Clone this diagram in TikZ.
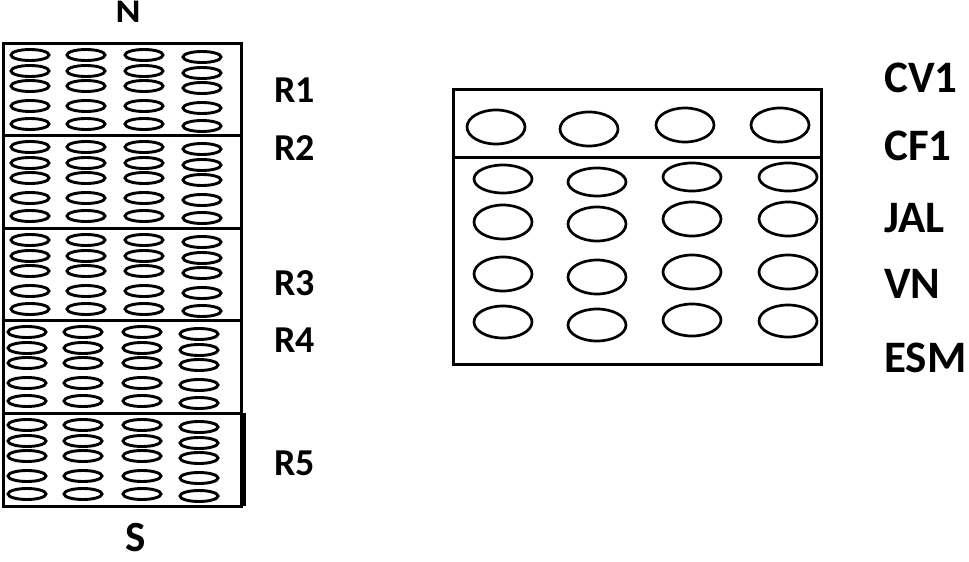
\documentclass[tikz,border=0pt]{standalone}
\usepackage{fontspec}
\setmainfont{Carlito}
\begin{document}
\begin{tikzpicture}[x=1pt,y=-1pt,
  boxline/.style={line width=3pt},
  smallell/.style={line width=2.9pt},
  bigell/.style={line width=2.7pt},
  llbl/.style={font=\fontsize{38}{42}\selectfont\bfseries, inner sep=0pt, anchor=base west},
  rlbl/.style={font=\fontsize{45}{49}\selectfont\bfseries, inner sep=0pt, anchor=base west}]
\useasboundingbox (0,0) rectangle (969,562);
% left column ellipses
\foreach \T in {43,135,228}
  \foreach \cx/\dy in {30/0,86/0,144/0,202/2}
    \foreach \r in {12,28,43,63,81}
      \draw[smallell] (\cx,\T+\r+\dy) ellipse [x radius=19pt, y radius=5.5pt];
\foreach \T in {320,413}
  \foreach \cx/\dy in {27/0,83/0,142/0,199/2}
    \foreach \r in {12,28,43,63,81}
      \draw[smallell] (\cx,\T+\r+\dy) ellipse [x radius=19pt, y radius=5.5pt];
% left column boxes
\draw[boxline] (3,43) rectangle (241,506);
\foreach \T in {135,228,320,413}
  \draw[boxline] (3,\T) -- (241,\T);
\draw[boxline] (244,413) -- (244,506);
% right box
\draw[boxline] (453,89) rectangle (821,364);
\draw[boxline] (453,157) -- (821,157);
\foreach \cx/\cy in {496/127,589/129,685/125,780/125}
  \draw[bigell] (\cx,\cy) ellipse [x radius=29pt, y radius=17pt];
\foreach \cx/\cy in {503/179,597/182,692/177,788/177}
  \draw[bigell] (\cx,\cy) ellipse [x radius=29pt, y radius=14pt];
\foreach \cx/\cy in {503/222,597/224,692/219,788/219,503/274,597/277,692/272,788/272}
  \draw[bigell] (\cx,\cy) ellipse [x radius=29pt, y radius=17pt];
\foreach \cx/\cy in {503/322,597/325,692/320,788/321}
  \draw[bigell] (\cx,\cy) ellipse [x radius=29pt, y radius=16pt];
% labels
\node[font=\fontsize{33}{36}\selectfont\bfseries, inner sep=0pt, anchor=base] (n) at (128,23) {\scalebox{1.15}[1]{N}};
\node[font=\fontsize{43}{46}\selectfont\bfseries, inner sep=0pt, anchor=base] (s) at (136,551) {S};
\node[llbl] (r1) at (274,102) {R1};
\node[llbl] (r2) at (274,160) {R2};
\node[llbl] (r3) at (274,295) {R3};
\node[llbl] (r4) at (274,352) {R4};
\node[llbl] (r5) at (274,475) {R5};
\node[rlbl] (cv1) at (884,92) {CV1};
\node[rlbl] (cf1) at (884,160) {CF1};
\node[rlbl] (jal) at (884,232) {JAL};
\node[rlbl] (vn) at (884,298) {VN};
\node[rlbl] (esm) at (884,372) {ESM};
\end{tikzpicture}
\end{document}
